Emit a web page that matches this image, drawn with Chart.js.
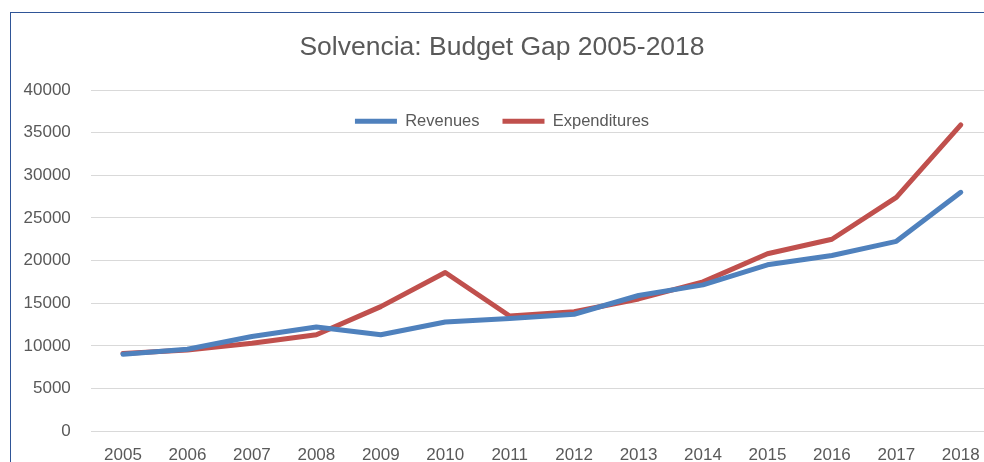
<!DOCTYPE html>
<html>
<head>
<meta charset="utf-8">
<script src="https://cdn.jsdelivr.net/npm/chart.js@4"></script>
<style>
  html, body { margin: 0; padding: 0; background: #fff; overflow: hidden; }
  #moldura {
    position: absolute; left: 10px; top: 12px;
    width: 988px; height: 517px;
    border-left: 1px solid #2f5597; border-top: 1px solid #2f5597;
  }
  #grafico { display: block; }
</style>
</head>
<body>
<div id="moldura"><canvas id="grafico" width="988" height="517"></canvas></div>
<script>
const anos = ["2005", "2006", "2007", "2008", "2009", "2010", "2011", "2012", "2013", "2014", "2015", "2016", "2017", "2018"];
const receitas = [9000, 9600, 11100, 12200, 11300, 12800, 13200, 13700, 15900, 17150, 19500, 20600, 22250, 28000];
const despesas = [9100, 9500, 10300, 11300, 14600, 18600, 13500, 14000, 15500, 17500, 20800, 22500, 27400, 35900];

const cinza = "#595959";
const fonte = "'Liberation Sans', Arial, sans-serif";

// Excel puts the legend inside the plot, so move it up to the top of the chart area
const legendaDentro = {
  id: "legendaDentro",
  afterLayout(chart) {
    const leg = chart.legend;
    const h = leg.bottom - leg.top;
    leg.top = chart.chartArea.top;
    leg.bottom = leg.top + h;
  }
};

document.addEventListener("DOMContentLoaded", () => {
  const canvas = document.getElementById("grafico");

  new Chart(canvas.getContext("2d"), {
    type: "line",
    data: {
      labels: anos,
      datasets: [
        {
          label: "Revenues",
          data: receitas,
          borderColor: "#4f81bd",
          backgroundColor: "#4f81bd",
          borderWidth: 5,
          borderCapStyle: "round",
          borderJoinStyle: "round",
          pointRadius: 0,
          tension: 0,
          fill: false,
        },
        {
          label: "Expenditures",
          data: despesas,
          borderColor: "#c0504d",
          backgroundColor: "#c0504d",
          borderWidth: 5,
          borderCapStyle: "round",
          borderJoinStyle: "round",
          pointRadius: 0,
          tension: 0,
          fill: false,
        },
      ],
    },
    plugins: [legendaDentro],
    options: {
      responsive: false,
      animation: false,
      layout: { padding: { left: 0, right: 6, top: 0, bottom: 0 } },
      plugins: {
        title: {
          display: true,
          text: "Solvencia: Budget Gap 2005-2018",
          color: cinza,
          font: { family: fonte, size: 26.5, weight: "normal" },
          padding: { top: 19.2, bottom: 26 },
        },
        legend: {
          position: "bottom",
          align: "center",
          labels: {
            usePointStyle: true,
            pointStyle: "line",
            pointStyleWidth: 42,
            padding: 23,
            color: cinza,
            font: { family: fonte, size: 16.5 },
          },
        },
        tooltip: { enabled: false },
      },
      scales: {
        x: {
          offset: true,
          grid: { display: false, drawTicks: false },
          border: { display: false },
          ticks: {
            color: cinza,
            font: { family: fonte, size: 17 },
            padding: 14.5,
            autoSkip: false,
            maxRotation: 0,
          },
        },
        y: {
          min: 0,
          max: 40000,
          afterFit: (escala) => { escala.width = 79.8; },
          grid: { color: "#d9d9d9", lineWidth: 1, drawTicks: false },
          border: { display: false },
          ticks: {
            stepSize: 5000,
            color: cinza,
            font: { family: fonte, size: 17 },
            padding: 20,
            callback: (v) => String(v),
          },
        },
      },
    },
  });
});
</script>
</body>
</html>
